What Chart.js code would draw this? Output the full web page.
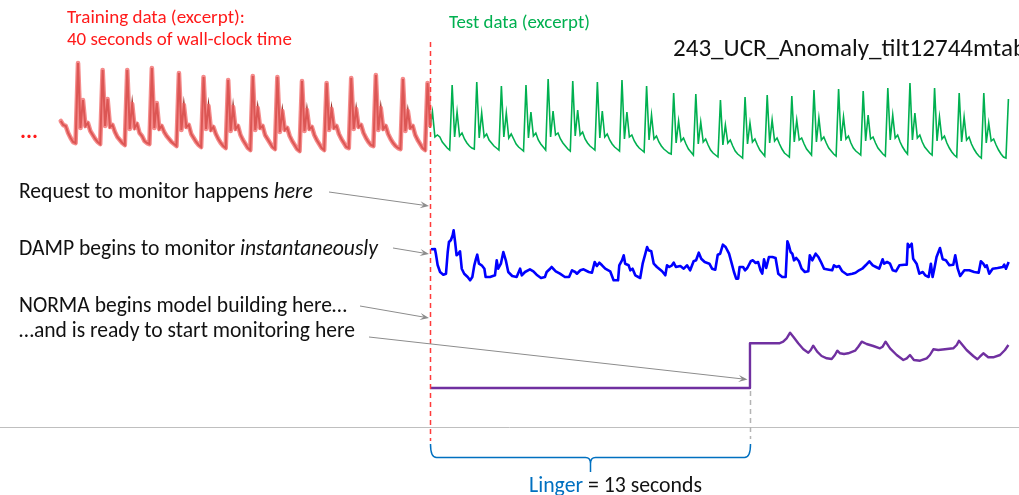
<!DOCTYPE html>
<html>
<head>
<meta charset="utf-8">
<script src="https://cdn.jsdelivr.net/npm/chart.js@4.4.1/dist/chart.umd.min.js"></script>
<style>
  html, body { margin: 0; padding: 0; background: #fff; overflow: hidden; }
  canvas { display: block; }
</style>
</head>
<body>
<canvas id="c" width="1019" height="495"></canvas>
<script>
// ---- ECG excerpts (amplitude, arbitrary units), sampled every 0.1 s ----
const SAMPLE_STEP_S = 0.1;
const TRAIN_START_S = -15.0;   // training excerpt ends where monitoring is requested (t = 0)
const TEST_START_S = 0.0;

const trainEcg = [
  49, 45, 44, 37, 32, 28, 27,
  107, 42, 70, 44, 47, 39, 35, 31, 28, 26,
  100, 44, 71, 43, 45, 38, 33, 30, 27, 25,
  100, 41, 66, 42, 46, 37, 34, 29, 27, 26,
  102, 42, 67, 41, 44, 38, 34, 31, 28, 26, 24,
  97, 40, 65, 43, 45, 36, 32, 28, 25, 23,
  93, 41, 64, 40, 43, 36, 31, 27, 24, 22,
  90, 39, 63, 41, 44, 35, 30, 26, 22, 20,
  94, 40, 62, 42, 44, 35, 31, 27, 23, 21,
  93, 38, 59, 40, 42, 34, 29, 25, 21, 19,
  89, 39, 60, 41, 43, 35, 30, 26, 22, 20,
  87, 40, 61, 42, 44, 36, 31, 27, 23, 22,
  92, 41, 61, 43, 45, 37, 32, 28, 25, 24,
  95, 40, 62, 41, 44, 36, 31, 27, 24, 22, 21,
  91, 39, 59, 42, 44, 35, 30, 26, 22, 20,
  87, 45
];

const testEcg = [
  42, 58, 33, 35, 33, 28, 25, 22, 20,
  85, 33, 58, 34, 37, 31, 27, 24, 22, 21,
  88, 32, 57, 33, 36, 30, 27, 24, 22, 20,
  84, 33, 57, 32, 36, 31, 26, 23, 21, 19,
  85, 32, 58, 34, 37, 30, 26, 23, 20,
  91, 33, 59, 35, 37, 31, 27, 24, 21, 19,
  89, 34, 60, 35, 38, 31, 27, 24, 22, 20,
  88, 32, 59, 33, 36, 30, 26, 23, 21, 19,
  90, 31, 58, 33, 35, 29, 25, 22, 20, 18,
  84, 30, 55, 31, 34, 28, 24, 21, 19, 17, 16,
  77, 27, 49, 29, 32, 26, 21, 18, 15,
  76, 26, 48, 28, 31, 25, 20, 17, 15, 13,
  70, 25, 45, 27, 30, 24, 19, 16, 14, 12,
  73, 26, 47, 28, 31, 25, 20, 17, 14,
  75, 27, 50, 29, 32, 26, 21, 17, 15, 13,
  74, 28, 50, 30, 32, 26, 21, 18, 15,
  80, 28, 52, 30, 33, 27, 22, 19, 16, 14,
  81, 29, 53, 31, 34, 27, 22, 19, 17, 15,
  79, 29, 55, 31, 33, 27, 22, 19, 16, 14,
  82, 30, 55, 32, 35, 28, 23, 19, 16,
  87, 30, 57, 32, 35, 28, 23, 20, 17, 15,
  82, 29, 53, 31, 34, 27, 22, 18, 15, 13,
  77, 28, 53, 30, 33, 26, 21, 17, 14, 12,
  77, 27, 47, 29, 31, 25, 20, 16, 13, 12,
  71
];

// ---- DAMP discord score (seconds after the request, score) ----
const dampTime = [
  0.04, 0.20, 0.24, 0.31, 0.41, 0.54, 0.65, 0.72, 0.77, 0.85, 0.92, 0.96, 1.02, 1.08, 1.15, 1.22, 1.29, 1.39,
  1.53, 1.63, 1.72, 1.80, 1.87, 1.92, 1.99, 2.10, 2.21, 2.26, 2.44, 2.64, 2.71, 2.77, 2.88, 2.98, 3.08, 3.18,
  3.34, 3.52, 3.66, 3.73, 3.86, 4.06, 4.20, 4.33, 4.51, 4.67, 4.74, 4.88, 4.94, 5.11, 5.28, 5.48, 5.65,
  5.77, 5.90, 5.97, 6.11, 6.24, 6.45, 6.58, 6.69, 6.78, 6.88, 6.99, 7.12, 7.32, 7.46, 7.64, 7.69, 7.80, 7.87,
  7.93, 8.07, 8.14, 8.23, 8.34, 8.54, 8.64, 8.75, 8.82, 8.88, 8.99, 9.09, 9.22, 9.43, 9.56, 9.63, 9.72, 9.83,
  9.90, 9.99, 10.17, 10.31, 10.44, 10.57, 10.71, 10.81, 10.92, 11.02, 11.16, 11.35, 11.46, 11.59, 11.69, 11.79,
  11.90, 12.01, 12.15, 12.26, 12.35, 12.44, 12.52, 12.58, 12.72, 12.80, 12.89, 13.03, 13.12, 13.23, 13.33,
  13.43, 13.50, 13.57, 13.66, 13.77, 13.91, 14.04, 14.15, 14.31, 14.45, 14.52, 14.58, 14.65, 14.72, 14.79,
  14.88, 14.99, 15.10, 15.23, 15.37, 15.43, 15.53, 15.67, 15.78, 15.87, 16.01, 16.21, 16.34, 16.41, 16.51,
  16.62, 16.75, 16.95, 17.16, 17.29, 17.43, 17.56, 17.70,
  17.85, 17.99, 18.12, 18.25, 18.39, 18.45, 18.57, 18.69, 18.80, 18.93, 19.07, 19.27, 19.37, 19.41, 19.47,
  19.57, 19.63, 19.77, 19.88, 20.02, 20.12, 20.26, 20.35, 20.42, 20.49, 20.58, 20.72, 20.83, 20.96, 21.10,
  21.26, 21.34, 21.44, 21.54, 21.71, 21.91, 22.11, 22.29, 22.38, 22.48, 22.56, 22.62, 22.72, 22.86, 23.06,
  23.27, 23.33, 23.40, 23.51
];
const dampScore = [
  3.57, 3.60, 3.10, 2.00, 1.30, 1.03, 1.13, 3.30, 4.30, 4.50, 4.97, 5.47, 4.30, 2.97, 3.13, 3.37, 1.63, 1.13,
  0.80, 0.47, 0.80, 1.97, 2.63, 3.03, 2.13, 1.97, 1.63, 0.80, 0.80, 0.97, 2.47, 1.63, 2.13, 3.30, 2.47, 1.30,
  0.90, 0.80, 1.63, 0.97, 1.30, 1.57, 1.37, 1.03, 0.70, 0.80, 1.30, 1.63, 1.80, 1.37, 1.13, 0.80, 0.80,
  1.47, 1.30, 1.13, 1.47, 1.57, 1.30, 1.23, 2.30, 1.90, 2.23, 1.97, 1.63, 1.37, 0.47, 0.47, 1.97, 2.47, 2.97,
  2.13, 1.97, 1.47, 1.63, 0.97, 0.70, 2.13, 3.13, 3.80, 3.47, 3.37, 2.13, 1.80, 1.37, 0.97, 1.97, 1.80, 1.97,
  2.23, 1.80, 1.90, 1.63, 1.97, 1.47, 2.37, 2.47, 3.23, 2.63, 2.30, 2.13, 1.63, 1.53, 3.03, 3.13,
  4.03, 3.80, 3.13, 2.13, 1.30, 0.63, 0.63, 1.80, 1.80, 1.47, 1.70, 2.37, 2.47, 2.20, 2.30,
  1.47, 1.13, 2.57, 1.70, 2.80, 2.80, 2.70, 1.13, 0.80, 0.80, 4.37, 3.97, 3.30, 3.13, 2.47,
  2.70, 2.37, 1.63, 1.30, 1.37, 2.97, 2.47, 3.13, 2.80, 2.37, 1.63, 1.53, 1.47, 1.97, 1.80,
  1.90, 1.37, 1.03, 1.13, 1.23, 1.47, 1.63, 1.97,
  2.37, 1.97, 1.80, 1.63, 2.57, 2.13, 2.30, 2.13, 1.47, 1.37, 1.97, 2.03, 2.03, 4.13, 3.80,
  4.13, 2.63, 2.13, 1.13, 1.30, 0.97, 0.80, 2.13, 0.80, 1.63, 2.80, 3.70, 2.57, 2.47, 1.97,
  2.03, 2.97, 1.63, 0.90, 1.47, 1.47, 1.30, 1.23, 2.37, 2.13, 1.80, 1.97, 1.13, 1.63, 1.70,
  1.80, 2.03, 1.63, 2.30
];

// ---- NORMA score: flat while the model is being built, then live ----
const LINGER_S = 13;
const normaTime = [
  0, 13.00, 13.00, 14.19, 14.35, 14.49, 14.63, 14.76, 14.96, 15.17, 15.37, 15.47, 15.57, 15.73, 15.91, 16.12,
  16.32, 16.45, 16.55, 16.66, 16.82, 16.99, 17.27, 17.40, 17.54, 17.74, 18.01, 18.28, 18.39, 18.51, 18.69,
  18.96, 19.23, 19.37, 19.50, 19.66, 19.91, 20.18, 20.31, 20.45, 20.65, 20.92, 21.26, 21.40, 21.49, 21.60,
  21.80, 22.07, 22.24, 22.34, 22.48, 22.68, 22.88, 23.16, 23.36, 23.50
];
const normaScore = [
  0, 0, 4.47, 4.47, 4.63, 4.97, 5.53, 5.13, 4.47, 3.87, 3.53, 3.80, 4.23, 3.63, 3.20, 2.97,
  2.90, 3.30, 3.73, 3.47, 3.40, 3.47, 3.73, 4.13, 4.63, 4.40, 4.20, 3.97, 4.13, 4.63, 3.97,
  3.30, 2.80, 2.97, 3.30, 2.80, 2.73, 2.97, 3.30, 3.87, 3.80, 3.87, 3.97, 4.30, 4.73, 4.40,
  3.80, 3.20, 2.87, 3.13, 3.47, 3.07, 3.07, 3.30, 3.80, 4.30
];

// ---- build {x, y} points ----
const sampled = (vals, start) => vals.map((v, i) => ({ x: +(start + i * SAMPLE_STEP_S).toFixed(2), y: v }));
const paired = (ts, vs) => ts.map((t, i) => ({ x: t, y: vs[i] }));

const FONT = 'Carlito, Calibri, Lato, sans-serif';

// sizes a run of text so that it spans the given width, then draws it
function drawRun(ctx, parts, x, y, width, fitOn) {
  let w = 0;
  const probe = fitOn ? [{ t: fitOn, style: parts[0].style }] : parts;
  for (const p of probe) { ctx.font = `${p.style || ''} 100px ${FONT}`; w += ctx.measureText(p.t).width; }
  const size = 100 * width / w;
  let cx = x;
  ctx.textBaseline = 'alphabetic';
  ctx.textAlign = 'left';
  for (const p of parts) {
    ctx.font = `${p.style || ''} ${size}px ${FONT}`;
    ctx.fillStyle = p.color;
    ctx.fillText(p.t, cx, y);
    cx += ctx.measureText(p.t).width;
  }
}

function arrow(ctx, x1, y1, x2, y2) {
  const a = Math.atan2(y2 - y1, x2 - x1), L = 9, W = 3.6;
  const c = '#8c8c8c';
  ctx.save();
  ctx.strokeStyle = c; ctx.fillStyle = c; ctx.lineWidth = 1; ctx.setLineDash([]);
  ctx.beginPath(); ctx.moveTo(x1, y1); ctx.lineTo(x2 - 5 * Math.cos(a), y2 - 5 * Math.sin(a)); ctx.stroke();
  ctx.beginPath();
  ctx.moveTo(x2, y2);
  ctx.lineTo(x2 - L * Math.cos(a) + W * Math.sin(a), y2 - L * Math.sin(a) - W * Math.cos(a));
  ctx.lineTo(x2 - 0.6 * L * Math.cos(a), y2 - 0.6 * L * Math.sin(a));
  ctx.lineTo(x2 - L * Math.cos(a) - W * Math.sin(a), y2 - L * Math.sin(a) + W * Math.cos(a));
  ctx.closePath(); ctx.fill();
  ctx.restore();
}

const annotations = {
  id: 'annotations',
  beforeDatasetsDraw(chart) {
    const ctx = chart.ctx;
    ctx.save();
    // baseline rule under the traces
    ctx.strokeStyle = '#bfbfbf'; ctx.lineWidth = 1;
    ctx.beginPath(); ctx.moveTo(0, 427.5); ctx.lineTo(chart.width, 427.5); ctx.stroke();
    ctx.restore();
  },
  afterDatasetsDraw(chart) {
    const ctx = chart.ctx;
    const xs = chart.scales.x;
    const xReq = Math.round(xs.getPixelForValue(0)) + 0.5;
    const xReady = Math.round(xs.getPixelForValue(LINGER_S)) + 0.5;
    const yFlat = chart.scales.yNorma.getPixelForValue(0);

    ctx.save();
    // request instant
    ctx.strokeStyle = '#ff3b3b'; ctx.lineWidth = 1.5; ctx.setLineDash([5, 4]);
    ctx.beginPath(); ctx.moveTo(xReq, 42); ctx.lineTo(xReq, 441); ctx.stroke();
    // NORMA ready instant
    ctx.strokeStyle = '#b4b4b4'; ctx.lineWidth = 1.5;
    ctx.beginPath(); ctx.moveTo(xReady, yFlat + 3); ctx.lineTo(xReady, 439); ctx.stroke();
    ctx.setLineDash([]);

    // linger brace
    const xm = (xReq + xReady) / 2, yTop = 444, yBar = 457.5, yTip = 472;
    ctx.strokeStyle = '#0070c0'; ctx.lineWidth = 1.5;
    ctx.beginPath();
    ctx.moveTo(xReq, yTop); ctx.quadraticCurveTo(xReq, yBar, xReq + 6, yBar);
    ctx.lineTo(xm - 5, yBar); ctx.quadraticCurveTo(xm, yBar, xm, yBar + 6); ctx.lineTo(xm, yTip);
    ctx.moveTo(xReady, yTop); ctx.quadraticCurveTo(xReady, yBar, xReady - 6, yBar);
    ctx.lineTo(xm + 5, yBar); ctx.quadraticCurveTo(xm, yBar, xm, yBar + 6);
    ctx.stroke();
    ctx.restore();

    // labels
    ctx.save();
    const red = '#ff1a1a', green = '#00b050', ink = '#111111', blue = '#0070c0';
    drawRun(ctx, [{ t: 'Training data (excerpt):', color: red }], 67, 23, 178);
    drawRun(ctx, [{ t: '40 seconds of wall-clock time', color: red }], 67, 44.5, 225);
    drawRun(ctx, [{ t: 'Test data (excerpt)', color: green }], 449, 27.5, 141);
    drawRun(ctx, [{ t: '243_UCR_Anomaly_tilt12744mtable', color: ink }], 673, 56, 340, '243_UCR_Anomaly_tilt12744mta');
    drawRun(ctx, [{ t: '...', color: red, style: 'bold' }], 20, 138, 18);
    drawRun(ctx, [{ t: 'Request to monitor happens ', color: ink }, { t: 'here', color: ink, style: 'italic' }], 19, 198, 294);
    drawRun(ctx, [{ t: 'DAMP begins to monitor ', color: ink }, { t: 'instantaneously', color: ink, style: 'italic' }], 19, 255, 359);
    drawRun(ctx, [{ t: 'NORMA begins model building here\u2026', color: ink }], 19, 311.5, 328);
    drawRun(ctx, [{ t: '\u2026and is ready to start monitoring here', color: ink }], 19, 336.5, 336);
    drawRun(ctx, [{ t: 'Linger', color: blue }, { t: ' = 13 seconds', color: ink }], 529, 491.5, 173);
    ctx.restore();

    // callout arrows
    arrow(ctx, 329, 192, xReq - 1.5, 206);
    arrow(ctx, 393, 248, xReq - 1.5, 254);
    arrow(ctx, 360, 306, xReq - 1.5, 318);
    arrow(ctx, 369, 337, xReady - 3, 379.5);
  }
};

new Chart(document.getElementById('c'), {
  type: 'line',
  data: {
    datasets: [
      { label: 'Training (halo)', data: sampled(trainEcg, TRAIN_START_S), yAxisID: 'yEcg',
        borderColor: 'rgba(242, 100, 100, 0.75)', borderWidth: 4.6, borderJoinStyle: 'round', borderCapStyle: 'round' },
      { label: 'Training', data: sampled(trainEcg, TRAIN_START_S), yAxisID: 'yEcg',
        borderColor: '#9c2f26', borderWidth: 2 },
      { label: 'Test', data: sampled(testEcg, TEST_START_S), yAxisID: 'yEcg',
        borderColor: '#00b050', borderWidth: 1.6 },
      { label: 'DAMP', data: paired(dampTime, dampScore), yAxisID: 'yDamp',
        borderColor: '#0000ff', borderWidth: 2.6, borderJoinStyle: 'round' },
      { label: 'NORMA', data: paired(normaTime, normaScore), yAxisID: 'yNorma',
        borderColor: '#7030a0', borderWidth: 2.4, borderJoinStyle: 'round' }
    ]
  },
  options: {
    responsive: false,
    animation: false,
    layout: { padding: 0 },
    elements: { point: { radius: 0 }, line: { tension: 0, fill: false } },
    plugins: { legend: { display: false }, tooltip: { enabled: false } },
    scales: {
      x: { type: 'linear', display: false, min: -17.47, max: 23.93 },
      yEcg: { type: 'linear', display: false, min: -325, max: 170 },
      yDamp: { type: 'linear', display: false, min: -21, max: 28.5 },
      yNorma: { type: 'linear', display: false, min: -10.7, max: 38.8 }
    }
  },
  plugins: [annotations]
});
</script>
</body>
</html>
